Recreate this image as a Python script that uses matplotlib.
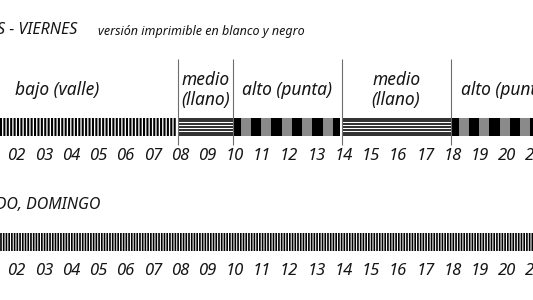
import numpy as np
import matplotlib
matplotlib.use("Agg")
import matplotlib.pyplot as plt

# ---- data ----
wk_starts = [0, 8, 10, 14, 18, 22]
wk_ends = [8, 10, 14, 18, 22, 24]
wk_kinds = ["bajo", "medio", "alto", "medio", "alto", "medio"]
wk_labels = ["bajo (valle)", "medio\n(llano)", "alto (punta)", "medio\n(llano)", "alto (punta)", "medio\n(llano)"]
wk_label_hours = [3.57, 9, 12, 16, 20.05, 23]
we_starts = [0]
we_ends = [24]
we_kinds = ["bajo"]
hour_ticks = list(range(0, 25))
tick_labels = [f"{h:02d}" for h in hour_ticks]
title_top = "LUNES - VIERNES"
subtitle = "versión imprimible en blanco y negro"
title_bottom = "SÁBADO, DOMINGO"

# ---- layout ----
W, H = 533, 300
px_per_hour = 27.25
h0 = 1.464
fig = plt.figure(figsize=(W / 100, H / 100), dpi=100)
ax = fig.add_axes([0, 0, 1, 1])
ax.set_xlim(h0, h0 + W / px_per_hour)
ax.set_ylim(H, 0)
ax.axis("off")

FONT = "Noto Sans"
TXT = "#151515"

def draw_bar(starts, ends, kinds, y0, y1, stripe_step, stripe_lw):
    for s, e, k in zip(starts, ends, kinds):
        if k == "bajo":
            xs = np.arange(s, e, stripe_step)
            lc = ax.vlines(xs, y0, y1, colors="black", linewidth=stripe_lw)
            lc.set_snap(False)
        elif k == "medio":
            ys = np.linspace(y0 + 0.7, y1 - 0.7, 7)
            ax.hlines(ys, s + 0.02, e, colors="black", linewidth=1.15)
        elif k == "alto":
            w = 0.375
            edges = np.arange(s - 0.075, e + w, w)
            for i in range(len(edges) - 1):
                a, b = max(edges[i], s + 0.01), min(edges[i + 1], e - 0.05)
                if b <= a:
                    continue
                ax.add_patch(plt.Rectangle((a, y0), b - a, y1 - y0,
                                           facecolor="black" if i % 2 == 0 else "#8a8a8a",
                                           edgecolor="none"))

# top bar
draw_bar(wk_starts, wk_ends, wk_kinds, 118, 136, 0.125, 1.5)
for b in wk_starts[1:]:
    ax.vlines(b, 59, 145, colors="#6e6e6e", linewidth=0.8)
for lab, hx, k in zip(wk_labels, wk_label_hours, wk_kinds):
    ax.text(hx, 90, lab, ha="center", va="center", fontsize=12.5, style="italic",
            family=FONT, color=TXT, linespacing=1.2)

# bottom bar
draw_bar(we_starts, we_ends, we_kinds, 233, 251, 0.1, 1.2)

# tick labels
for h, t in zip(hour_ticks, tick_labels):
    ax.text(h + 0.07, 156, t, ha="center", va="center", fontsize=12, style="italic",
            family=FONT, color=TXT)
    ax.text(h + 0.07, 271, t, ha="center", va="center", fontsize=12, style="italic",
            family=FONT, color=TXT)

# titles
ax.text(h0 + 77 / px_per_hour, 30, title_top, ha="right", va="center", fontsize=11.5,
        style="italic", family=FONT, color=TXT)
ax.text(h0 + 98 / px_per_hour, 32, subtitle, ha="left", va="center", fontsize=9,
        style="italic", family=FONT, color=TXT)
ax.text(h0 + 100 / px_per_hour, 204, title_bottom, ha="right", va="center", fontsize=11.5,
        style="italic", family=FONT, color=TXT)

fig.savefig("out.png", dpi=100)
